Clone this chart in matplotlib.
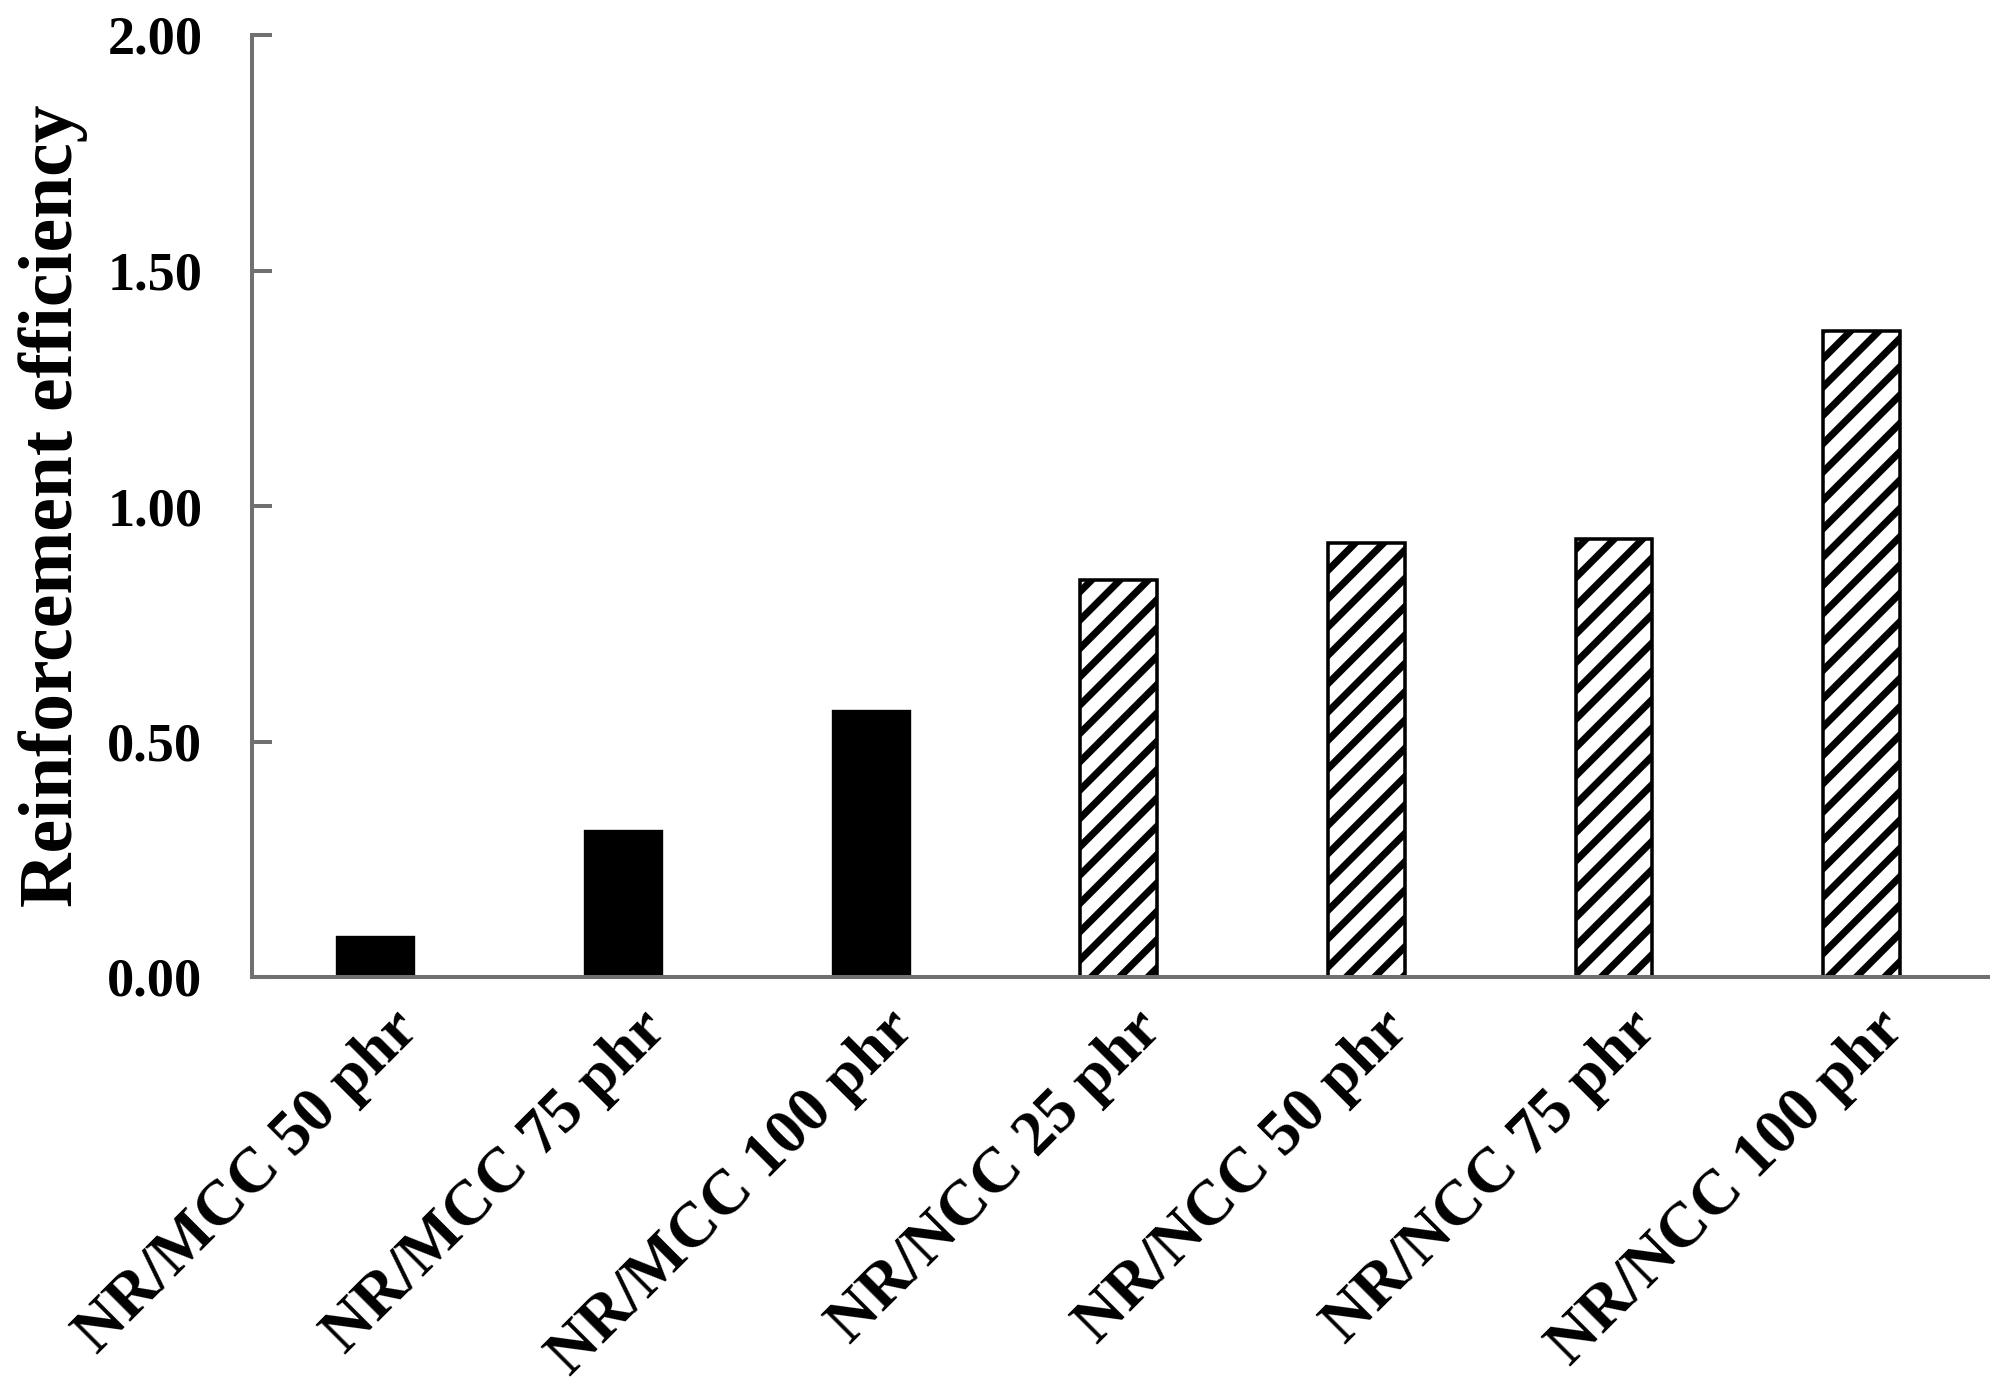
import matplotlib
matplotlib.use("Agg")
import matplotlib.pyplot as plt
import matplotlib.transforms as mtransforms

# data
categories = [
    "NR/MCC 50 phr",
    "NR/MCC 75 phr",
    "NR/MCC 100 phr",
    "NR/NCC 25 phr",
    "NR/NCC 50 phr",
    "NR/NCC 75 phr",
    "NR/NCC 100 phr",
]
efficiency = [0.084, 0.31, 0.565, 0.842, 0.921, 0.929, 1.372]
is_nano = [False, False, False, True, True, True, True]
y_ticks = [0.0, 0.5, 1.0, 1.5, 2.0]
y_tick_labels = ["0.00", "0.50", "1.00", "1.50", "2.00"]

DPI = 170
plt.rcParams["font.family"] = ["Liberation Serif", "DejaVu Serif"]
plt.rcParams["font.weight"] = "bold"
plt.rcParams["hatch.linewidth"] = 3.0
plt.rcParams["hatch.color"] = "black"

fig = plt.figure(figsize=(2005 / DPI, 1391 / DPI), dpi=DPI)
ax = fig.add_axes([252 / 2005, 1 - 977 / 1391, (1988 - 252) / 2005, (977 - 35) / 1391])

x = range(len(categories))
for xi, val, nano in zip(x, efficiency, is_nano):
    if nano:
        ax.bar(xi, val, width=0.31, color="white", edgecolor="black",
               hatch="//", linewidth=1.5)
    else:
        ax.bar(xi, val, width=0.31, color="black", edgecolor="black", linewidth=1.0)

ax.set_xlim(-0.5, len(categories) - 0.49)
ax.set_ylim(0, 2.0)
ax.set_yticks(y_ticks)
ax.set_yticklabels(y_tick_labels, fontsize=23, fontweight="bold")
ax.set_xticks(list(x))
ax.set_xticklabels(categories, fontsize=27, fontweight="bold",
                   rotation=45, ha="right", va="center", rotation_mode="anchor")

spine_color = "#707070"
for side in ("top", "right"):
    ax.spines[side].set_visible(False)
for side in ("left", "bottom"):
    ax.spines[side].set_color(spine_color)
    ax.spines[side].set_linewidth(1.7)

ax.tick_params(axis="y", direction="in", length=8.5, width=1.7,
               color=spine_color, pad=21)
ax.tick_params(axis="x", length=0, pad=0)

# shift the rotated category labels so their right end sits just right of each bar
offset = mtransforms.ScaledTranslation(34 / DPI, -44 / DPI, fig.dpi_scale_trans)
for lbl in ax.get_xticklabels():
    lbl.set_transform(lbl.get_transform() + offset)

ax.set_ylabel("Reinforcement efficiency", fontsize=32, fontweight="bold")
ax.yaxis.set_label_coords(-0.0945, 0.5)

fig.savefig("out.png", dpi=DPI)
